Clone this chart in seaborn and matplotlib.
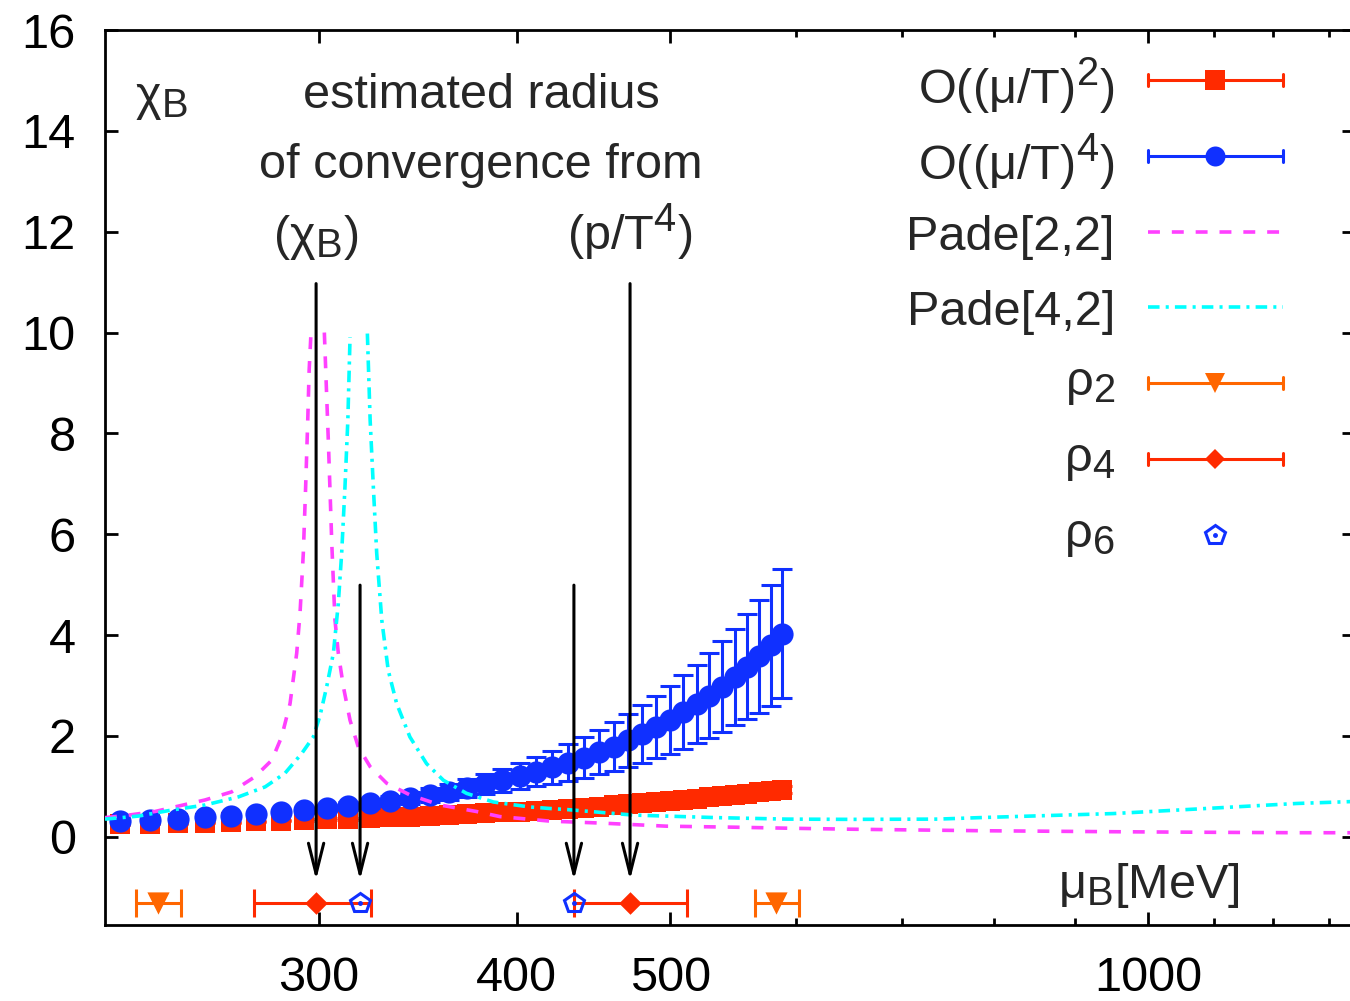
import numpy as np
import pandas as pd
import matplotlib
matplotlib.use("Agg")
import matplotlib.pyplot as plt
import matplotlib._mathtext as _mt
from matplotlib.ticker import FixedLocator, FixedFormatter, NullFormatter
from matplotlib.transforms import blended_transform_factory
import seaborn as sns

# ---------------------------------------------------------------
# Taylor expansions of chi_B on the mu_B grid [MeV]
# ---------------------------------------------------------------
mu_grid = np.linspace(225.0, 588.0, 38)

chi_o2 = [0.25, 0.26, 0.27, 0.28, 0.29, 0.31, 0.32, 0.33, 0.35, 0.36,
          0.37, 0.39, 0.40, 0.42, 0.44, 0.45, 0.47, 0.49, 0.50, 0.52,
          0.54, 0.56, 0.58, 0.60, 0.62, 0.64, 0.66, 0.69, 0.71, 0.73,
          0.75, 0.78, 0.80, 0.83, 0.85, 0.88, 0.90, 0.93]
chi_o2_err = [0.01, 0.01, 0.01, 0.01, 0.01, 0.01, 0.01, 0.02, 0.02, 0.02,
              0.02, 0.02, 0.02, 0.02, 0.03, 0.03, 0.03, 0.03, 0.03, 0.03,
              0.04, 0.04, 0.04, 0.04, 0.04, 0.05, 0.05, 0.05, 0.05, 0.05,
              0.06, 0.06, 0.06, 0.06, 0.07, 0.07, 0.07, 0.07]

chi_o4 = [0.31, 0.33, 0.36, 0.39, 0.42, 0.45, 0.49, 0.53, 0.57, 0.61,
          0.66, 0.71, 0.77, 0.83, 0.89, 0.96, 1.04, 1.12, 1.20, 1.29,
          1.38, 1.47, 1.57, 1.68, 1.79, 1.91, 2.04, 2.18, 2.32, 2.47,
          2.63, 2.80, 2.98, 3.17, 3.37, 3.58, 3.80, 4.03]
chi_o4_err = [0.02, 0.02, 0.02, 0.03, 0.03, 0.04, 0.04, 0.05, 0.06, 0.07,
              0.08, 0.10, 0.12, 0.14, 0.16, 0.18, 0.20, 0.23, 0.26, 0.29,
              0.33, 0.37, 0.40, 0.44, 0.48, 0.52, 0.57, 0.62, 0.67, 0.73,
              0.78, 0.84, 0.90, 0.96, 1.04, 1.12, 1.20, 1.28]

# ---------------------------------------------------------------
# Pade resummations (left / right of the pole)
# ---------------------------------------------------------------
pade22_left_mu = [220.0, 226.5, 236.5, 254.4, 264.4, 273.5, 280.3, 284.3,
                  287.8, 290.6, 292.0, 293.4, 294.4, 295.3, 295.9, 296.7, 298.7]
pade22_left_val = [0.38, 0.42, 0.50, 0.73, 0.89, 1.19, 1.52, 1.98,
                   2.64, 3.64, 4.43, 5.62, 6.94, 8.26, 9.25, 10.0, 10.0]
pade22_right_mu = [302.5, 304.3, 305.8, 307.2, 308.7, 311.0, 314.0, 317.8,
                   323.3, 331.2, 342.5, 357.8, 377.4, 390.3, 419.8, 453.0,
                   497.0, 547.8, 592.0, 649.0, 783.7, 950.6, 1073.0, 1241.0, 1350.0]
pade22_right_val = [10.0, 7.8, 5.8, 4.3, 3.64, 2.97, 2.31, 1.78,
                    1.39, 1.06, 0.83, 0.63, 0.50, 0.40, 0.31, 0.27,
                    0.21, 0.19, 0.17, 0.15, 0.12, 0.10, 0.09, 0.08, 0.08]

pade42_left_mu = [220.0, 230.9, 242.4, 254.4, 267.0, 277.6, 285.7, 292.7,
                  297.7, 300.6, 303.5, 306.5, 308.7, 310.2, 311.7, 313.0, 314.0]
pade42_left_val = [0.35, 0.41, 0.53, 0.63, 0.79, 0.99, 1.26, 1.65,
                   1.98, 2.40, 2.97, 3.64, 4.63, 5.62, 6.94, 8.26, 9.91]
pade42_right_mu = [322.0, 323.3, 324.8, 326.4, 328.8, 331.9, 336.0, 342.5,
                   350.9, 359.6, 371.9, 386.6, 407.8, 420.0, 430.0, 473.7,
                   534.0, 592.0, 649.0, 737.0, 784.0, 951.0, 1073.0, 1241.0, 1350.0]
pade42_right_val = [9.98, 8.26, 6.94, 5.62, 4.30, 3.30, 2.64, 1.98,
                    1.45, 1.12, 0.86, 0.69, 0.59, 0.56, 0.54, 0.43,
                    0.38, 0.35, 0.345, 0.35, 0.38, 0.46, 0.55, 0.66, 0.70]

# ---------------------------------------------------------------
# Radius of convergence estimates [MeV]
# ---------------------------------------------------------------
rho2_mu = [237.7, 582.9]
rho2_err_lo = [7.5, 17.5]
rho2_err_hi = [8.0, 19.8]
rho4_mu = [298.9, 471.5]
rho4_err_lo = [25.7, 37.0]
rho4_err_hi = [24.8, 40.8]
rho6_mu = [318.6, 434.6]

# ---------------------------------------------------------------
# Style
# ---------------------------------------------------------------
RED = "#ff2a00"
BLUE = "#1030ff"
MAGENTA = "#ff40ff"
CYAN = "#00ffff"
ORANGE = "#ff6600"
FS = 35
LW_CURVE = 2.6

# larger sub/superscripts, closer to enhanced-text look
_mt.SHRINK_FACTOR = 0.82

sns.set_theme(style="ticks")
plt.rcParams.update({
    "font.family": ["Liberation Sans", "DejaVu Sans"],
    "mathtext.fontset": "custom",
    "mathtext.rm": "Liberation Sans",
    "mathtext.it": "Liberation Sans",
    "mathtext.bf": "Liberation Sans",
    "mathtext.default": "regular",
    "axes.linewidth": 2.0,
    "axes.edgecolor": "black",
    "xtick.color": "black",
    "ytick.color": "black",
    "font.size": FS,
})

fig = plt.figure(figsize=(13.5, 10.01), dpi=100)
AX_W, AX_H = 1249.6, 895.0
ax = fig.add_axes([105 / 1350, 76 / 1001, AX_W / 1350, AX_H / 1001])
ax.set_xscale("log")
ax.set_xlim(220, 1350)
ax.set_ylim(-1.75, 16)

# axis ticks
ax.xaxis.set_major_locator(FixedLocator([300, 400, 500, 1000]))
ax.xaxis.set_major_formatter(FixedFormatter(["300", "400", "500", "1000"]))
ax.xaxis.set_minor_locator(FixedLocator([600, 700, 800, 900, 1100, 1200, 1300]))
ax.xaxis.set_minor_formatter(NullFormatter())
ax.set_yticks(np.arange(0, 17, 2))
ax.tick_params(axis="both", which="major", direction="in", length=9.4, width=2.0,
               top=True, right=True, labelsize=FS)
ax.tick_params(axis="both", which="minor", direction="in", length=4.7, width=2.0,
               top=True, right=True)
ax.tick_params(axis="y", which="major", pad=21)
ax.tick_params(axis="x", which="major", pad=22)

# O((mu/T)^2): red squares
ax.errorbar(mu_grid, chi_o2, yerr=chi_o2_err, fmt="none", ecolor=RED,
            elinewidth=2.2, capsize=7, capthick=2.2, zorder=2)
sns.scatterplot(x=mu_grid, y=chi_o2, marker="s", s=14.6 ** 2, color=RED,
                linewidth=0, ax=ax, zorder=2, legend=False)

# O((mu/T)^4): blue circles
ax.errorbar(mu_grid, chi_o4, yerr=chi_o4_err, fmt="none", ecolor=BLUE,
            elinewidth=2.2, capsize=7, capthick=2.2, zorder=3)
sns.scatterplot(x=mu_grid, y=chi_o4, marker="o", s=16 ** 2, color=BLUE,
                linewidth=0, ax=ax, zorder=3, legend=False)

# Pade curves
pade22 = pd.DataFrame({
    "mu": pade22_left_mu + pade22_right_mu,
    "chi": pade22_left_val + pade22_right_val,
    "branch": [0] * len(pade22_left_mu) + [1] * len(pade22_right_mu),
})
pade42 = pd.DataFrame({
    "mu": pade42_left_mu + pade42_right_mu,
    "chi": pade42_left_val + pade42_right_val,
    "branch": [0] * len(pade42_left_mu) + [1] * len(pade42_right_mu),
})
DASH22 = (0, (3.3, 3.3))
DASH42 = (0, (3.2, 1.7, 0.85, 1.7))
sns.lineplot(data=pade22, x="mu", y="chi", units="branch", estimator=None,
             color=MAGENTA, lw=LW_CURVE, linestyle=DASH22, ax=ax, legend=False, zorder=4)
sns.lineplot(data=pade42, x="mu", y="chi", units="branch", estimator=None,
             color=CYAN, lw=LW_CURVE, linestyle=DASH42, ax=ax, legend=False, zorder=4)

# radius of convergence markers along the bottom
ROW_Y = -1.31
ax.errorbar(rho2_mu, [ROW_Y] * 2, xerr=[rho2_err_lo, rho2_err_hi], fmt="none",
            ecolor=ORANGE, elinewidth=2.2, capsize=10, capthick=2.2, zorder=5)
sns.scatterplot(x=rho2_mu, y=[ROW_Y] * 2, marker="v", s=16 ** 2, color=ORANGE,
                linewidth=0, ax=ax, zorder=5, legend=False)
ax.errorbar(rho4_mu, [ROW_Y] * 2, xerr=[rho4_err_lo, rho4_err_hi], fmt="none",
            ecolor=RED, elinewidth=2.2, capsize=10, capthick=2.2, zorder=5)
sns.scatterplot(x=rho4_mu, y=[ROW_Y] * 2, marker="D", s=11.5 ** 2, color=RED,
                linewidth=0, ax=ax, zorder=5, legend=False)
ax.plot(rho6_mu, [ROW_Y] * 2, linestyle="none", marker="p", markersize=15,
        markerfacecolor="none", markeredgecolor=BLUE, markeredgewidth=2.2, zorder=6)
ax.plot(rho6_mu, [ROW_Y] * 2, linestyle="none", marker="o", markersize=2.5,
        color=BLUE, zorder=6)
ax.set_xlabel("")
ax.set_ylabel("")

# arrows pointing at the estimated radii
ARROW_TIP = -0.86
for mu_r, top in [(rho4_mu[0], 10.97), (rho6_mu[0], 4.99),
                  (rho6_mu[1], 4.99), (rho4_mu[1], 10.97)]:
    ax.annotate("", xy=(mu_r, ARROW_TIP), xytext=(mu_r, top),
                arrowprops=dict(arrowstyle="->,head_length=2.2,head_width=0.55",
                                color="black", lw=2.2, shrinkA=0, shrinkB=0,
                                mutation_scale=10),
                zorder=8)


# layout helpers in pixel space of the axes box
def fx(px):
    return (px - 105) / AX_W


def fy(py):
    return (925 - py) / AX_H


T = ax.transAxes
ax.text(fx(135), fy(110), "χ$_{B}$", transform=T, fontsize=FS, ha="left", va="baseline")
ax.text(fx(481), fy(108), "estimated radius", transform=T, fontsize=FS,
        ha="center", va="baseline")
ax.text(fx(481), fy(178), "of convergence from", transform=T, fontsize=FS,
        ha="center", va="baseline")
bt = blended_transform_factory(ax.transData, ax.transAxes)
ax.text(rho4_mu[0], fy(250), "(χ$_{B}$)", transform=bt, fontsize=FS,
        ha="center", va="baseline")
ax.text(rho4_mu[1], fy(250), "(p/T$^{4}$)", transform=bt, fontsize=FS,
        ha="center", va="baseline")
ax.text(fx(1240), fy(898), "μ$_{B}$[MeV]", transform=T, fontsize=FS,
        ha="right", va="baseline")

# legend
LX0, LX1, LXM, LTX = fx(1148), fx(1283), fx(1215), fx(1115)
CAP = 6 / AX_H
legend_rows = [
    dict(py=80, off=24, label="O((μ/T)$^{2}$)", color=RED, marker="s", ms=14.4, bar=True),
    dict(py=156, off=24, label="O((μ/T)$^{4}$)", color=BLUE, marker="o", ms=14.4, bar=True),
    dict(py=232, off=18, label="Pade[2,2]", color=MAGENTA, ls=DASH22),
    dict(py=307, off=18, label="Pade[4,2]", color=CYAN, ls=DASH42),
    dict(py=383, off=12, label="ρ$_{2}$", color=ORANGE, marker="v", ms=14, bar=True),
    dict(py=459, off=12, label="ρ$_{4}$", color=RED, marker="D", ms=10, bar=True),
    dict(py=535, off=12, label="ρ$_{6}$", color=BLUE, marker="p", ms=15, hollow=True),
]
for row in legend_rows:
    yy = fy(row["py"])
    if row.get("bar"):
        ax.plot([LX0, LX1], [yy, yy], color=row["color"], lw=2.2,
                transform=T, clip_on=False, zorder=9)
        for xc in (LX0, LX1):
            ax.plot([xc, xc], [yy - CAP, yy + CAP], color=row["color"], lw=2.2,
                    transform=T, clip_on=False, zorder=9)
    if "ls" in row:
        ax.plot([LX0, LX1], [yy, yy], color=row["color"], lw=LW_CURVE, linestyle=row["ls"],
                transform=T, clip_on=False, zorder=9)
    if "marker" in row:
        if row.get("hollow"):
            ax.plot([LXM], [yy], marker=row["marker"], markersize=row["ms"],
                    markerfacecolor="none", markeredgecolor=row["color"],
                    markeredgewidth=2.2, transform=T, clip_on=False, zorder=10)
            ax.plot([LXM], [yy], marker="o", markersize=2.5, color=row["color"],
                    transform=T, clip_on=False, zorder=10)
        else:
            ax.plot([LXM], [yy], marker=row["marker"], markersize=row["ms"],
                    color=row["color"], markeredgewidth=0, linestyle="none",
                    transform=T, clip_on=False, zorder=10)
    ax.text(LTX, fy(row["py"] + row["off"]), row["label"], transform=T,
            fontsize=FS, ha="right", va="baseline")

fig.savefig("out.png", dpi=100, facecolor="white")
